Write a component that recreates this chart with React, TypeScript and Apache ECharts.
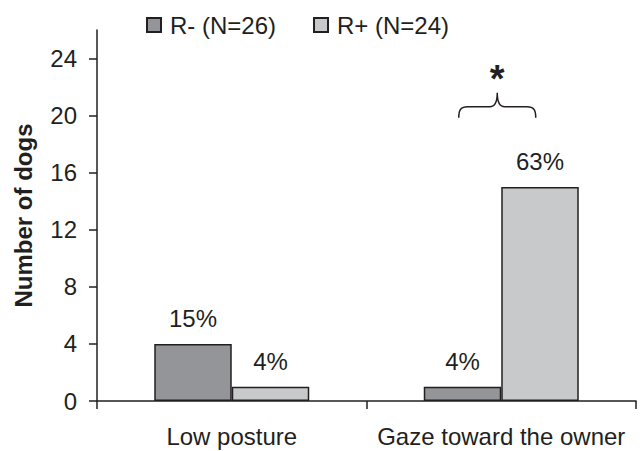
import React, { useEffect, useRef } from "react";
import * as echarts from "echarts";

const categories = ["Low posture", "Gaze toward the owner"];
const seriesNames = ["R- (N=26)", "R+ (N=24)"];
const rMinusCounts = [4, 1];
const rPlusCounts = [1, 15];
const rMinusPct = ["15%", "4%"];
const rPlusPct = ["4%", "63%"];
const yTicks = [0, 4, 8, 12, 16, 20, 24];
const yMax = 26;
const significantCategory = 1;
const significanceMark = "*";

const BRACE_D =
  "M0,25 C0,17 2,14 9,14 L31,14 C36,14 38.5,10 38.5,0 C38.5,10 41,14 46,14 L68,14 C75,14 77,17 77,25";
echarts.graphic.registerShape("brace", echarts.graphic.extendPath(BRACE_D, {}) as any);

const INK = "#231f20";
const FONT = "'Liberation Sans', Arial, sans-serif";
const FS = 24;

export default function App() {
  const ref = useRef<HTMLDivElement>(null);
  useEffect(() => {
    if (!ref.current) return;
    const chart = echarts.init(ref.current, null, { renderer: "svg" });
    const labelStyle = {
      show: true,
      position: "top" as const,
      distance: 13,
      color: INK,
      fontSize: FS,
      fontFamily: FONT,
    };
    chart.setOption({
      animation: false,
      backgroundColor: "#ffffff",
      textStyle: { fontFamily: FONT, color: INK },
      grid: { left: 97, right: 8, top: 30, bottom: 50 },
      legend: {
        left: 141,
        top: 8,
        itemWidth: 14,
        itemHeight: 14,
        itemGap: 37,
        icon: "rect",
        textStyle: { fontSize: FS, color: INK, fontFamily: FONT, padding: [0, 0, 0, 4] },
        data: seriesNames,
      },
      xAxis: {
        type: "category",
        data: categories,
        boundaryGap: true,
        axisLine: { lineStyle: { color: INK, width: 1.5 } },
        axisTick: { show: true, alignWithLabel: false, length: 8, lineStyle: { color: INK, width: 1.5 } },
        axisLabel: { color: INK, fontSize: FS, fontFamily: FONT, margin: 23, interval: 0, hideOverlap: false },
      },
      yAxis: {
        type: "value",
        min: 0,
        max: yMax,
        name: "Number of dogs",
        nameLocation: "middle",
        nameGap: 62,
        nameTextStyle: { fontSize: 24, fontWeight: "bold", color: INK, fontFamily: FONT },
        axisLine: { show: true, lineStyle: { color: INK, width: 1.5 } },
        axisTick: { show: true, length: 8, customValues: yTicks, lineStyle: { color: INK, width: 1.5 } },
        axisLabel: { color: INK, fontSize: FS, fontFamily: FONT, margin: 20, customValues: yTicks },
        splitLine: { show: false },
      },
      series: [
        {
          name: seriesNames[0],
          type: "bar",
          data: rMinusCounts,
          barWidth: 77.5,
          barGap: "0%",
          itemStyle: { color: "#939598", borderColor: INK, borderWidth: 1.5 },
          label: { ...labelStyle, formatter: (p: any) => rMinusPct[p.dataIndex] },
        },
        {
          name: seriesNames[1],
          type: "bar",
          data: rPlusCounts,
          barWidth: 77.5,
          barGap: "0%",
          itemStyle: { color: "#c8c9cb", borderColor: INK, borderWidth: 1.5 },
          label: { ...labelStyle, formatter: (p: any) => rPlusPct[p.dataIndex] },
        },
      ],
    });
    const pt = chart.convertToPixel({ xAxisIndex: 0, yAxisIndex: 0 }, [significantCategory, 21.6]) as number[];
    const cx = pt[0] - 4;
    const cy = pt[1];
    chart.setOption({
      graphic: [
        {
          type: "brace",
          x: cx - 38.5,
          y: cy,
          style: { stroke: INK, lineWidth: 1.5, fill: "none" },
        },
        {
          type: "text",
          x: cx,
          y: cy - 14,
          style: {
            text: significanceMark,
            font: `bold 38px ${FONT}`,
            textAlign: "center",
            textVerticalAlign: "middle",
            fill: INK,
          },
        },
      ],
    });
    return () => chart.dispose();
  }, []);
  return (
    <div
      ref={ref}
      style={{ position: "fixed", left: 0, top: 0, width: 644, height: 451, background: "#fff" }}
    />
  );
}
